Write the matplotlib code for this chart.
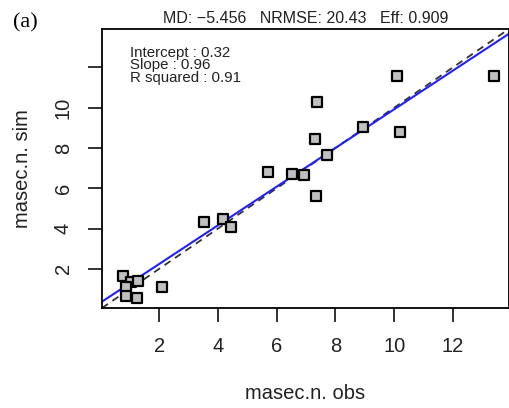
import numpy as np
import matplotlib
matplotlib.use("Agg")
import matplotlib.pyplot as plt

obs = [0.78, 1.04, 1.29, 0.88, 0.88, 1.24, 2.09,
       3.53, 4.17, 4.46,
       5.69, 6.52, 6.92, 7.35, 7.71,
       7.37, 7.29, 8.95, 10.11, 10.19, 13.39]
sim = [1.63, 1.35, 1.40, 1.09, 0.64, 0.57, 1.12,
       4.34, 4.46, 4.09,
       6.80, 6.72, 6.65, 5.64, 7.64,
       10.26, 8.42, 9.04, 11.55, 8.78, 11.55]

intercept = 0.32
slope = 0.96
r_squared = 0.91
title_text = "MD: \u22125.456   NRMSE: 20.43   Eff: 0.909"
xticks = [2, 4, 6, 8, 10, 12]
yticks = [2, 4, 6, 8, 10, 12]
ytick_labels = ["2", "4", "6", "8", "10", ""]

plt.rcParams['font.family'] = ['Liberation Sans', 'DejaVu Sans']

fig = plt.figure(figsize=(5.1, 4.08), dpi=100)
ax = fig.add_axes([0.2, 0.245, 0.798, 0.684])

# R style limits: common range of obs and sim, padded by 4%
lo = min(min(obs), min(sim))
hi = max(max(obs), max(sim))
pad = 0.04 * (hi - lo)
lim = (lo - pad, hi + pad)

xs = np.array(lim)
ax.plot(xs, xs, color='#333333', linestyle=(0, (4, 3)), linewidth=1.3, zorder=1)
ax.plot(xs, intercept + slope * xs, color='#2020ff', linewidth=1.5, zorder=2)

ax.scatter(obs, sim, marker='s', s=50, facecolor='#c0c0c0',
           edgecolor='black', linewidth=1.6, zorder=3)

ax.set_xlim(lim)
ax.set_ylim(lim)

ax.set_xticks(xticks)
ax.set_yticks(yticks)
ax.set_yticklabels(ytick_labels, rotation=90, va='center')
ax.tick_params(axis='both', direction='out', length=10, width=1.3,
               labelsize=14.5, pad=11, colors='#222222')

for s in ax.spines.values():
    s.set_linewidth(1.3)

ax.set_xlabel("masec.n. obs", fontsize=14.5, labelpad=20, color='#222222')
ax.set_ylabel("masec.n. sim", fontsize=14.5, labelpad=16, color='#222222')

ax.set_title(title_text, fontsize=11.5, pad=4, color='#222222')

ax.text(0.07, 0.94,
        "Intercept : %.2f\nSlope : %.2f\nR squared : %.2f" % (intercept, slope, r_squared),
        transform=ax.transAxes, fontsize=10.8, va='top', ha='left',
        linespacing=0.88, color='#222222')

fig.text(0.025, 0.945, "(a)", fontsize=16, family='Liberation Serif',
         ha='left', va='center')

fig.savefig("out.png", dpi=100)
